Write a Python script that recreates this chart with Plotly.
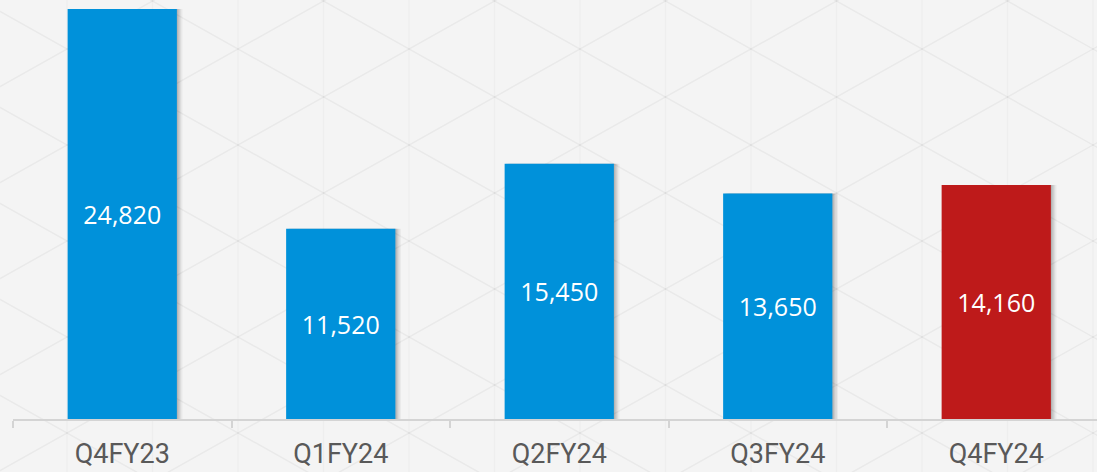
import plotly.graph_objects as go

categories = ["Q4FY23", "Q1FY24", "Q2FY24", "Q3FY24", "Q4FY24"]
values = [24820, 11520, 15450, 13650, 14160]
labels = ["24,820", "11,520", "15,450", "13,650", "14,160"]
bar_colors = ["#0091DA", "#0091DA", "#0091DA", "#0091DA", "#BE1A1A"]

W, H = 1097, 472
ML, MR, MT, MB = 13, 0, 0, 53
PW, PH = W - ML - MR, H - MT - MB

fig = go.Figure()

# soft shadows on the right of bars
for k, a in [(4, 0.04), (3, 0.06), (2, 0.08), (1, 0.10)]:
    fig.add_trace(go.Bar(
        x=categories, y=values, width=0.5, offset=-0.25 + 0.0065 * k,
        marker=dict(color=f"rgba(0,0,0,{a})", line=dict(width=0)),
        hoverinfo="skip", showlegend=False))

fig.add_trace(go.Bar(
    x=categories, y=values, width=0.5, offset=-0.25,
    marker=dict(color=bar_colors, line=dict(width=0)),
    text=labels, textposition="inside", insidetextanchor="middle",
    textangle=0,
    textfont=dict(family="Open Sans", size=25, color="white"),
    showlegend=False))

# decorative triangle background pattern (pixel geometry -> paper coords)
def px(x):
    return (x - ML) / PW

def py(y):
    return (H - MB - y) / PH

shapes = []
line_style = dict(color="rgba(0,0,0,0.045)", width=1.5)
vline_style = dict(color="rgba(0,0,0,0.022)", width=1.5)
dx, dy = 85.5, 48.0
x0, y0 = 238.0, 49.0
slope = dy / dx
j = -4
while x0 + dx * j < W + 10:
    xv = x0 + dx * j
    shapes.append(dict(type="line", xref="paper", yref="paper", layer="below",
                       x0=px(xv), x1=px(xv), y0=py(-5), y1=py(H + 5), line=vline_style))
    j += 1
for k in range(-20, 20):
    xa, xb = -10, W + 10
    ya = y0 + slope * (xa - x0) + 96 * k
    yb = y0 + slope * (xb - x0) + 96 * k
    shapes.append(dict(type="line", xref="paper", yref="paper", layer="below",
                       x0=px(xa), x1=px(xb), y0=py(ya), y1=py(yb), line=line_style))
    ya = y0 - slope * (xa - x0) + 96 * k
    yb = y0 - slope * (xb - x0) + 96 * k
    shapes.append(dict(type="line", xref="paper", yref="paper", layer="below",
                       x0=px(xa), x1=px(xb), y0=py(ya), y1=py(yb), line=line_style))

fig.update_layout(
    width=W, height=H,
    margin=dict(l=ML, r=MR, t=MT, b=MB, pad=0),
    barmode="overlay",
    paper_bgcolor="#f4f4f4",
    plot_bgcolor="rgba(0,0,0,0)",
    shapes=shapes,
    xaxis=dict(
        type="category", range=[-0.5, -0.5 + PW / 218.5],
        showline=True, linecolor="#d4d4d4", linewidth=1.5,
        ticks="outside", tickson="boundaries", ticklen=7, tickcolor="#d4d4d4", tickwidth=1.5,
        ticklabelstandoff=10,
        showgrid=False, zeroline=False,
        tickfont=dict(family="Roboto", size=27, color="#595959"),
    ),
    yaxis=dict(range=[0, 25365], visible=False, showgrid=False, zeroline=False),
)

fig.write_html("out.html", config={"displayModeBar": False},
               post_script="document.body.style.margin='0';document.body.style.background='#f4f4f4';")
